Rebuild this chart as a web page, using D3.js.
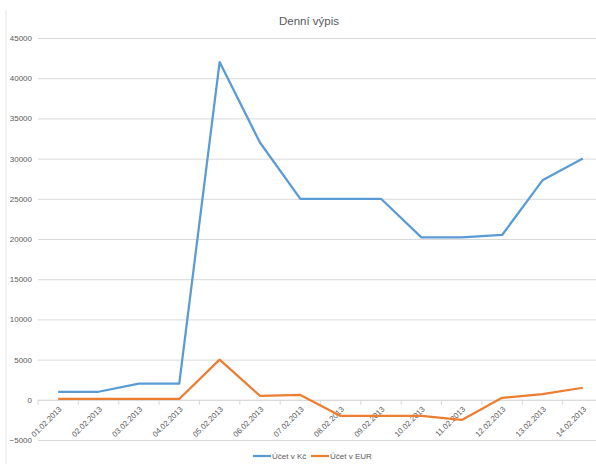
<!DOCTYPE html>
<html>
<head>
<meta charset="utf-8">
<script src="https://cdn.jsdelivr.net/npm/d3@7"></script>
<style>
  body { margin: 0; background: #fff; }
  text { font-family: "Liberation Sans", Arial, sans-serif; fill: #595959; }
</style>
</head>
<body>
<div id="chart"></div>
<script>
// data
const dates = ["01.02.2013", "02.02.2013", "03.02.2013", "04.02.2013", "05.02.2013", "06.02.2013", "07.02.2013",
  "08.02.2013", "09.02.2013", "10.02.2013", "11.02.2013", "12.02.2013", "13.02.2013", "14.02.2013"];
const uctyKc = [1000, 1000, 2000, 2000, 42000, 32000, 25000, 25000, 25000, 20200, 20200, 20500, 27300, 30000];
const uctyEur = [100, 100, 100, 100, 5000, 500, 600, -2000, -2000, -2000, -2500, 250, 700, 1500];
const yTicks = [-5000, 0, 5000, 10000, 15000, 20000, 25000, 30000, 35000, 40000, 45000];
const seriesNames = ["Účet v Kč", "Účet v EUR"];
const colors = ["#5b9bd5", "#ed7d31"];

const W = 596, H = 464;
const margin = { top: 38, right: -7, bottom: 24, left: 38 };
const width = W - margin.left - margin.right,
  height = H - margin.top - margin.bottom;

const svg = d3.select("#chart").append("svg")
  .attr("width", W).attr("height", H);

// faint chart border on the left
svg.append("line")
  .attr("x1", 6).attr("x2", 6).attr("y1", 10).attr("y2", H)
  .attr("stroke", "#e6e6e6");

svg.append("text")
  .attr("x", 309).attr("y", 25)
  .attr("text-anchor", "middle")
  .style("font-size", "11.5px")
  .text("Denní výpis");

const g = svg.append("g")
  .attr("transform", "translate(" + margin.left + "," + margin.top + ")");

const x = d3.scaleBand().domain(dates).range([0, width]);
const y = d3.scaleLinear().domain([-5000, 45000]).range([402, 0]);

// gridlines + y labels
const yAxis = d3.axisLeft(y).tickValues(yTicks).tickSize(-width).tickFormat(d3.format("d"));
g.append("g").call(yAxis)
  .call(a => a.select(".domain").remove())
  .call(a => a.selectAll(".tick line").attr("stroke", "#d9d9d9"))
  .call(a => a.selectAll(".tick text")
    .attr("x", -6).style("font-size", "8px").attr("fill", "#595959"));

// category axis on the zero line
const xAxis = d3.axisBottom(x).tickSizeOuter(0).tickSize(0);
const xa = g.append("g")
  .attr("transform", "translate(0," + y(0) + ")")
  .call(xAxis);
xa.select(".domain").attr("stroke", "#d9d9d9");
xa.selectAll(".tick text")
  .style("font-size", "7.8px")
  .attr("fill", "#595959")
  .attr("text-anchor", "end")
  .attr("dy", null)
  .attr("y", 0)
  .attr("transform", "translate(4,10) rotate(-45)");

// tick marks between categories
g.append("g").selectAll("line")
  .data(dates.concat(["end"]))
  .join("line")
  .attr("x1", (d, i) => i * x.bandwidth())
  .attr("x2", (d, i) => i * x.bandwidth())
  .attr("y1", y(0)).attr("y2", y(0) + 5)
  .attr("stroke", "#d9d9d9");

const line = d3.line()
  .x((d, i) => x(dates[i]) + x.bandwidth() / 2)
  .y(d => y(d));

[uctyKc, uctyEur].forEach((s, i) => {
  g.append("path")
    .datum(s)
    .attr("d", line)
    .attr("fill", "none")
    .attr("stroke", colors[i])
    .attr("stroke-width", 2.25)
    .attr("stroke-linejoin", "round");
});

// legend
const legend = svg.append("g").attr("transform", "translate(253,456)");
const legX = [0, 58];
seriesNames.forEach((n, i) => {
  const lg = legend.append("g").attr("transform", "translate(" + legX[i] + ",0)");
  lg.append("line").attr("x1", 0).attr("x2", 18)
    .attr("stroke", colors[i]).attr("stroke-width", 2.25);
  lg.append("text").attr("x", 19).attr("y", 3)
    .style("font-size", "8px").text(n);
});
</script>
</body>
</html>
